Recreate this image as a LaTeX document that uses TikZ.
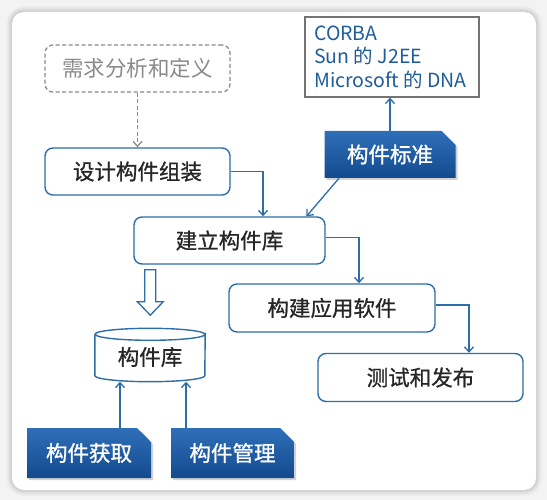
\documentclass[tikz,border=0pt]{standalone}
\usepackage{fontspec}
\setmainfont{Noto Sans CJK SC}
\newfontfamily\medfont{Noto Sans CJK SC}[FakeBold=0.9]
\newfontfamily\wfont{Noto Sans CJK SC}[FakeBold=1.1]
\usetikzlibrary{arrows.meta,shapes.misc,shadows,calc}
\definecolor{lineblue}{HTML}{2E6DA8}
\definecolor{boxtop}{HTML}{2F6FB8}
\definecolor{boxbot}{HTML}{134A8E}
\definecolor{txtblue}{HTML}{1F5C9C}
\definecolor{dashgray}{HTML}{8A8A8A}
\definecolor{bggray}{HTML}{F3F3F3}
\tikzset{
  x=1pt, y=-1pt,
  boxfont/.style={font=\medfont\fontsize{21.5}{24}\selectfont},
  roundbox/.style={draw=lineblue, line width=1.4pt, rounded corners=8pt, fill=white,
    inner sep=0pt, boxfont, text=black!85},
  reqbox/.style={draw=dashgray, line width=1.3pt, dashed, dash pattern=on 4pt off 2.5pt,
    rounded corners=8pt, inner sep=0pt, font=\fontsize{21.5}{24}\selectfont, text=dashgray},
  bluebox/.style={chamfered rectangle, chamfered rectangle corners=north east,
    chamfered rectangle xsep=7pt, chamfered rectangle ysep=7pt,
    top color=boxtop, bottom color=boxbot, draw=none, inner sep=0pt, text=white,
    font=\wfont\fontsize{21.5}{24}\selectfont,
    drop shadow={shadow xshift=2pt, shadow yshift=-2pt, opacity=0.35}},
  arr/.style={draw=lineblue, line width=1.3pt, -{Straight Barb[length=5pt,width=9pt,line width=1.3pt]}},
  garr/.style={draw=dashgray, line width=1.3pt, dashed, dash pattern=on 4pt off 2.5pt,
    -{Straight Barb[length=5pt,width=9pt,line width=1.3pt]}}
}
\begin{document}
\begin{tikzpicture}
\useasboundingbox (0,0) rectangle (547,500);
\fill[bggray] (0,0) rectangle (547,500);
% panel with soft shadow
\foreach \i/\o in {6/0.02,4.5/0.03,3/0.04,1.5/0.05}{
  \fill[black,opacity=\o,rounded corners=12pt+\i pt] (12-\i,12-\i) rectangle (536+\i,490+\i);
}
\fill[white,rounded corners=12pt] (12,12) rectangle (536,490);

% nodes
\node[reqbox, minimum width=185pt, minimum height=47pt] (req) at (137.5,68.5) {需求分析和定义};
\node[roundbox, minimum width=185pt, minimum height=47pt] (design) at (137.5,171.5) {设计构件组装};
\node[roundbox, minimum width=191pt, minimum height=47pt] (build) at (229.5,240.5) {建立构件库};
\node[roundbox, minimum width=206pt, minimum height=48pt] (app) at (332,308) {构建应用软件};
\node[roundbox, minimum width=205pt, minimum height=48pt] (test) at (420.5,377.5) {测试和发布};
\node[draw=black!55, line width=1.3pt, fill=white, minimum width=174pt, minimum height=80pt,
  inner sep=0pt] (corba) at (392,57) {};
\node[anchor=west, align=left, text=txtblue, font=\fontsize{19.5}{23.5}\selectfont, inner sep=0pt]
  (corbatxt) at (314,57) {CORBA\\Sun 的 J2EE\\Microsoft 的 DNA};
\node[bluebox, minimum width=131pt, minimum height=47pt] (std) at (390,154.5) {构件标准};
\node[bluebox, minimum width=124pt, minimum height=50pt] (get) at (89,453) {构件获取};
\node[bluebox, minimum width=123pt, minimum height=50pt] (mgmt) at (232.5,453) {构件管理};

% cylinder
\node[minimum width=110pt, minimum height=53pt, inner sep=0pt] (lib) at (150,355) {};
\draw[lineblue, line width=1.4pt, fill=white]
  ($(lib.north west)+(0,6)$) -- ($(lib.south west)+(0,-6)$)
  arc[start angle=180, end angle=360, x radius=55pt, y radius=6pt]
  -- ($(lib.north east)+(0,6)$)
  arc[start angle=0, end angle=-180, x radius=55pt, y radius=6pt];
\draw[lineblue, line width=1.4pt] ($(lib.north west)+(0,6)$)
  arc[start angle=180, end angle=0, x radius=55pt, y radius=6pt];
\node[boxfont, text=black!85, inner sep=0pt] (libtxt) at ([yshift=-2pt]lib.center) {构件库};

% hollow arrow
\draw[lineblue, line width=1.3pt, fill=white, line join=miter]
  ($(build.south west)+(11.5,5)$) -- ++(11,0) -- ++(0,32) -- ++(7.5,0) -- ++(-13,13.5)
  -- ++(-13,-13.5) -- ++(7.5,0) -- cycle;

% connectors
\draw[garr] (req.south) -- (design.north);
\draw[arr] (design.east) -| ([xshift=33.5pt]build.north);
\draw[arr] ([xshift=-51pt]std.south) -- ([xshift=77pt]build.north);
\draw[arr] (std.north) -- (std.north |- corba.south);
\draw[arr] ([yshift=3pt]build.east) -| ([xshift=27pt]app.north);
\draw[arr] ([yshift=3pt]app.east) -| ([xshift=48.5pt]test.north);
\draw[arr] ([xshift=-30pt]lib.south |- get.north) -- ([xshift=-30pt]lib.south);
\draw[arr] ([xshift=36pt]lib.south |- mgmt.north) -- ([xshift=36pt]lib.south);
\end{tikzpicture}
\end{document}
